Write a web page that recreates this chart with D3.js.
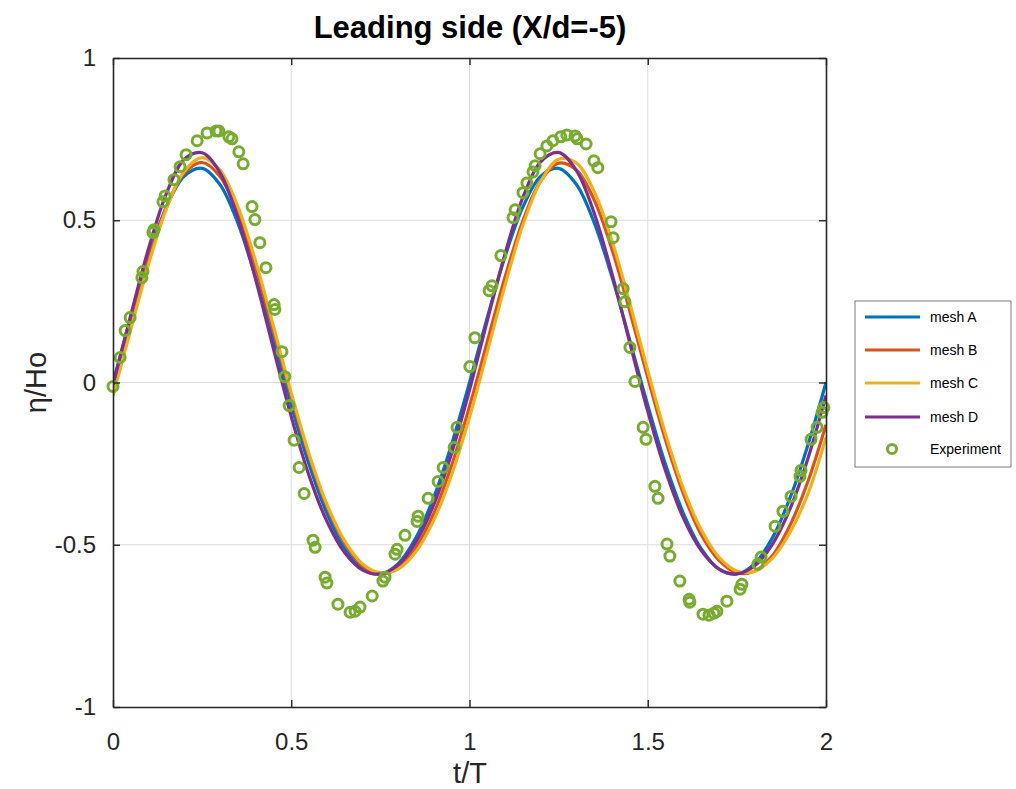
<!DOCTYPE html>
<html>
<head>
<meta charset="utf-8">
<script src="https://cdn.jsdelivr.net/npm/d3@7"></script>
<style>
  html, body { margin: 0; padding: 0; background: #fff; }
  svg { display: block; font-family: "Liberation Sans", Arial, Helvetica, sans-serif; }
</style>
</head>
<body>
<svg id="chart" width="1016" height="789"></svg>
<script>
// Sample times (t/T) for the simulated free-surface records
const tSim = d3.range(0, 41).map(i => +(i * 0.05).toFixed(2));

// Simulated elevation η/Ho for each mesh, at the times in tSim
const meshA = [
  0.000, 0.201, 0.389, 0.541, 0.636, 0.660, 0.610, 0.492, 0.324, 0.129,
  -0.070, -0.253, -0.403, -0.512, -0.575, -0.590, -0.558, -0.478, -0.353, -0.190,
  0.000, 0.201, 0.389, 0.541, 0.636, 0.660, 0.610, 0.492, 0.324, 0.129,
  -0.070, -0.253, -0.403, -0.512, -0.575, -0.590, -0.558, -0.478, -0.353, -0.190,
  0.000
];
const meshB = [
  -0.016, 0.186, 0.380, 0.540, 0.645, 0.678, 0.635, 0.521, 0.355, 0.158,
  -0.043, -0.228, -0.382, -0.495, -0.565, -0.590, -0.572, -0.509, -0.403, -0.255,
  -0.074, 0.126, 0.326, 0.499, 0.622, 0.676, 0.655, 0.562, 0.409, 0.218,
  0.015, -0.178, -0.343, -0.469, -0.548, -0.587, -0.581, -0.533, -0.438, -0.303,
  -0.130
];
const meshC = [
  -0.041, 0.164, 0.365, 0.536, 0.651, 0.693, 0.655, 0.543, 0.374, 0.174,
  -0.032, -0.220, -0.375, -0.488, -0.559, -0.586, -0.575, -0.521, -0.424, -0.284,
  -0.107, 0.095, 0.301, 0.486, 0.620, 0.688, 0.676, 0.588, 0.435, 0.243,
  0.037, -0.159, -0.327, -0.454, -0.539, -0.581, -0.582, -0.541, -0.460, -0.341,
  -0.169
];
const meshD = [
  -0.007, 0.208, 0.414, 0.583, 0.688, 0.708, 0.647, 0.508, 0.318, 0.104,
  -0.105, -0.287, -0.428, -0.525, -0.578, -0.590, -0.562, -0.491, -0.376, -0.218,
  -0.023, 0.191, 0.398, 0.571, 0.681, 0.709, 0.653, 0.521, 0.334, 0.121,
  -0.089, -0.273, -0.418, -0.518, -0.575, -0.590, -0.565, -0.498, -0.387, -0.232,
  -0.040
];

// Measured wave gauge record
const expT = [
  0.000, 0.020, 0.034, 0.048, 0.081, 0.084, 0.112, 0.115, 0.140, 0.146,
  0.171, 0.188, 0.205, 0.236, 0.264, 0.289, 0.297, 0.325, 0.334, 0.353,
  0.365, 0.390, 0.398, 0.412, 0.429, 0.452, 0.454, 0.474, 0.482, 0.494,
  0.508, 0.522, 0.536, 0.561, 0.567, 0.595, 0.600, 0.631, 0.665, 0.679,
  0.693, 0.727, 0.757, 0.763, 0.791, 0.797, 0.819, 0.853, 0.856, 0.884,
  0.912, 0.926, 0.957, 0.965, 1.001, 1.015, 1.055, 1.063, 1.088, 1.122,
  1.128, 1.150, 1.161, 1.178, 1.184, 1.198, 1.217, 1.234, 1.256, 1.273,
  1.296, 1.302, 1.327, 1.349, 1.360, 1.397, 1.403, 1.431, 1.436, 1.450,
  1.464, 1.487, 1.495, 1.520, 1.529, 1.554, 1.562, 1.590, 1.616, 1.618,
  1.655, 1.672, 1.686, 1.694, 1.722, 1.759, 1.764, 1.809, 1.818, 1.857,
  1.879, 1.902, 1.927, 1.930, 1.958, 1.975, 1.989, 1.994
];
const expV = [
  -0.012, 0.077, 0.160, 0.200, 0.323, 0.342, 0.462, 0.471, 0.557, 0.575,
  0.625, 0.665, 0.702, 0.745, 0.769, 0.775, 0.775, 0.757, 0.751, 0.711,
  0.674, 0.542, 0.502, 0.431, 0.354, 0.240, 0.225, 0.095, 0.018, -0.071,
  -0.178, -0.262, -0.342, -0.486, -0.508, -0.600, -0.618, -0.683, -0.708, -0.705,
  -0.692, -0.658, -0.612, -0.600, -0.529, -0.514, -0.471, -0.428, -0.412, -0.357,
  -0.305, -0.262, -0.200, -0.138, 0.049, 0.138, 0.283, 0.298, 0.391, 0.508,
  0.532, 0.585, 0.615, 0.649, 0.668, 0.705, 0.729, 0.745, 0.757, 0.763,
  0.760, 0.751, 0.735, 0.683, 0.662, 0.495, 0.446, 0.289, 0.249, 0.108,
  0.003, -0.138, -0.175, -0.320, -0.357, -0.498, -0.535, -0.612, -0.668, -0.677,
  -0.714, -0.717, -0.711, -0.705, -0.674, -0.637, -0.622, -0.560, -0.538, -0.443,
  -0.397, -0.351, -0.289, -0.271, -0.175, -0.138, -0.092, -0.077
];

const xTicks = [0, 0.5, 1, 1.5, 2];
const yTicks = [-1, -0.5, 0, 0.5, 1];
const xTickLabels = ["0", "0.5", "1", "1.5", "2"];
const yTickLabels = ["-1", "-0.5", "0", "0.5", "1"];
const seriesNames = ["mesh A", "mesh B", "mesh C", "mesh D"];
const seriesColors = ["#0072BD", "#D95319", "#EDB120", "#7E2F8E"];
const expName = "Experiment";
const expColor = "#77AC30";

const svg = d3.select("#chart");
const plot = { left: 113, right: 826, top: 58, bottom: 707 };

const x = d3.scaleLinear().domain([0, 2]).range([plot.left, plot.right]);
const y = d3.scaleLinear().domain([-1, 1]).range([plot.bottom, plot.top]);

// Grid lines
const grid = svg.append("g").attr("stroke", "#dcdcdc").attr("stroke-width", 1);
xTicks.slice(1, -1).forEach(v => {
  grid.append("line").attr("x1", x(v)).attr("x2", x(v))
    .attr("y1", plot.top).attr("y2", plot.bottom);
});
yTicks.slice(1, -1).forEach(v => {
  grid.append("line").attr("x1", plot.left).attr("x2", plot.right)
    .attr("y1", y(v)).attr("y2", y(v));
});

// Simulated series
svg.append("clipPath").attr("id", "plotclip")
  .append("rect").attr("x", plot.left).attr("y", plot.top)
  .attr("width", plot.right - plot.left).attr("height", plot.bottom - plot.top);

const line = d3.line().x(d => x(d[0])).y(d => y(d[1])).curve(d3.curveCatmullRom.alpha(0.5));
const meshes = [meshA, meshB, meshC, meshD];
const lineG = svg.append("g").attr("clip-path", "url(#plotclip)");
meshes.forEach((vals, i) => {
  lineG.append("path")
    .datum(tSim.map((t, j) => [t, vals[j]]))
    .attr("fill", "none")
    .attr("stroke", seriesColors[i])
    .attr("stroke-width", 3.2)
    .attr("stroke-linejoin", "round")
    .attr("d", line);
});

// Experimental markers
svg.append("g").selectAll("circle")
  .data(expT.map((t, i) => [t, expV[i]]))
  .join("circle")
  .attr("cx", d => x(d[0]))
  .attr("cy", d => y(d[1]))
  .attr("r", 5)
  .attr("fill", "none")
  .attr("stroke", expColor)
  .attr("stroke-width", 3);

// Axes: box with inward ticks on all sides
const xLab = d => xTickLabels[xTicks.indexOf(d)];
const yLab = d => yTickLabels[yTicks.indexOf(d)];

const xBottom = svg.append("g").attr("transform", `translate(0,${plot.bottom})`)
  .call(d3.axisBottom(x).tickValues(xTicks).tickFormat(xLab).tickSizeInner(-7).tickSizeOuter(0).tickPadding(26));
const xTop = svg.append("g").attr("transform", `translate(0,${plot.top})`)
  .call(d3.axisTop(x).tickValues(xTicks).tickFormat("").tickSizeInner(-7).tickSizeOuter(0));
const yLeft = svg.append("g").attr("transform", `translate(${plot.left},0)`)
  .call(d3.axisLeft(y).tickValues(yTicks).tickFormat(yLab).tickSizeInner(-7).tickSizeOuter(0).tickPadding(17));
const yRight = svg.append("g").attr("transform", `translate(${plot.right},0)`)
  .call(d3.axisRight(y).tickValues(yTicks).tickFormat("").tickSizeInner(-7).tickSizeOuter(0));

[xBottom, xTop, yLeft, yRight].forEach(g => {
  g.select(".domain").attr("stroke", "#262626").attr("stroke-width", 1.6);
  g.selectAll(".tick line").attr("stroke", "#262626").attr("stroke-width", 1.4);
  g.selectAll(".tick text").attr("fill", "#262626").attr("font-size", 24)
    .attr("font-family", "'Liberation Sans', Arial, sans-serif");
});

// Titles
svg.append("text")
  .attr("x", 470).attr("y", 38)
  .attr("text-anchor", "middle")
  .attr("font-size", 31).attr("font-weight", "bold").attr("fill", "#000")
  .text("Leading side (X/d=-5)");

svg.append("text")
  .attr("x", 470).attr("y", 783)
  .attr("text-anchor", "middle")
  .attr("font-size", 29).attr("fill", "#262626")
  .text("t/T");

svg.append("text")
  .attr("transform", `translate(46,${(plot.top + plot.bottom) / 2}) rotate(-90)`)
  .attr("text-anchor", "middle")
  .attr("font-size", 29).attr("fill", "#262626")
  .text("η/Ho");

// Legend
const legend = svg.append("g").attr("transform", "translate(855,301)");
legend.append("rect").attr("width", 156).attr("height", 166)
  .attr("fill", "#fff").attr("stroke", "#7a7a7a").attr("stroke-width", 1);
const rowY = [16, 49, 82, 116, 148];
seriesNames.forEach((name, i) => {
  legend.append("line")
    .attr("x1", 10).attr("x2", 65).attr("y1", rowY[i]).attr("y2", rowY[i])
    .attr("stroke", seriesColors[i]).attr("stroke-width", 3.2);
  legend.append("text")
    .attr("x", 75).attr("y", rowY[i]).attr("dy", "0.35em")
    .attr("font-size", 14).attr("fill", "#000").text(name);
});
legend.append("circle")
  .attr("cx", 37).attr("cy", rowY[4]).attr("r", 4.6)
  .attr("fill", "none").attr("stroke", expColor).attr("stroke-width", 3);
legend.append("text")
  .attr("x", 75).attr("y", rowY[4]).attr("dy", "0.35em")
  .attr("font-size", 14).attr("fill", "#000").text(expName);
</script>
</body>
</html>
